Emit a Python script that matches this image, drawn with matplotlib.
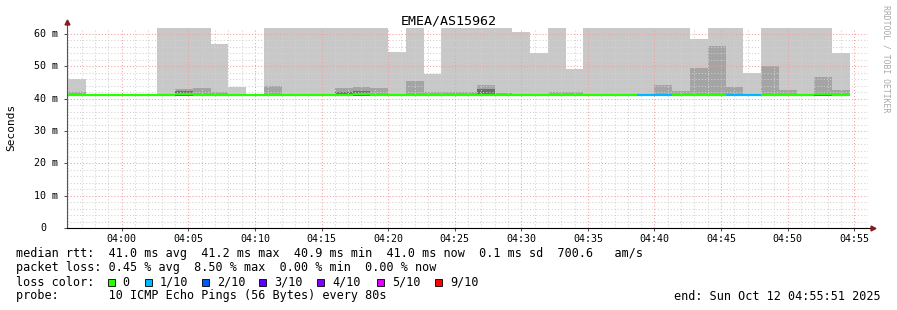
import numpy as np
import matplotlib
matplotlib.use('Agg')
from matplotlib import pyplot as plt
from matplotlib.patches import Rectangle
from matplotlib.transforms import blended_transform_factory

W, H = 897, 310
plt.rcParams['font.family'] = ['DejaVu Sans Mono']

###################### Data ##############################
# one bin every 80 s, first bin starts 03:56:00 (minutes relative to 04:00)
first_bin = -4.0
step_min = 80 / 60.0

rtt_median = [41.0, 41.0, 41.0, 41.0, 41.0, 41.0, 41.3, 41.0, 41.0, 41.0, 41.0,
              41.0, 41.0, 41.0, 41.0, 41.0, 41.3, 41.2, 41.0, 41.0, 41.0, 41.0,
              41.0, 41.1, 41.2, 41.2, 41.0, 41.0, 41.0, 41.0, 41.0, 41.0, 41.0,
              41.0, 41.0, 41.0, 41.0, 41.0, 41.0, 41.0, 41.0, 41.0, 41.3, 41.1]
rtt_min = [40.9] * 44
rtt_max = [46.0, 41.0, 41.0, 41.0, 41.0, 70.0, 70.0, 70.0, 57.0, 43.5, 41.0,
           70.0, 70.0, 70.0, 70.0, 70.0, 70.0, 70.0, 54.3, 70.0, 47.5, 70.0,
           70.0, 70.0, 70.0, 60.7, 54.0, 70.0, 49.3, 70.0, 70.0, 70.0, 70.0,
           70.0, 70.0, 58.5, 70.0, 70.0, 48.0, 70.0, 70.0, 70.0, 70.0, 54.0]
smoke_mid = [42.1, 41.0, 41.0, 41.0, 41.0, 41.0, 42.9, 43.3, 41.9, 41.0, 41.0,
             44.0, 41.5, 41.0, 41.0, 43.2, 43.7, 43.2, 41.5, 45.5, 41.9, 41.9,
             42.1, 44.3, 41.8, 41.5, 41.0, 42.1, 42.1, 41.0, 41.0, 41.0, 41.0,
             44.1, 42.4, 49.6, 56.1, 43.6, 41.0, 50.2, 42.7, 41.0, 46.7, 42.7]
smoke_core = [41.0, 41.0, 41.0, 41.0, 41.0, 41.0, 42.4, 41.0, 41.0, 41.0, 41.0,
              41.0, 41.0, 41.0, 41.0, 42.1, 42.5, 41.0, 41.0, 41.0, 41.0, 41.0,
              41.0, 43.1, 41.0, 41.0, 41.0, 41.0, 41.0, 41.0, 41.0, 41.0, 41.0,
              41.0, 41.0, 41.0, 41.0, 41.0, 41.0, 41.0, 41.0, 41.0, 41.0, 41.0]
loss = [0, 0, 0, 0, 0, 0, 0, 0, 0, 0, 0, 0, 0, 0, 0, 0, 0, 0, 0, 0, 0, 0,
        0, 0, 0, 0, 0, 0, 0, 0, 0, 0, 1, 1, 0, 0, 0, 1, 1, 0, 0, 0, 0, 0]

loss_keys = [0, 1, 2, 3, 4, 5, 9]
loss_labels = ['0', '1/10', '2/10', '3/10', '4/10', '5/10', '9/10']
loss_colors = ['#26ff00', '#00b8ff', '#0059ff', '#5e00ff', '#7e00ff', '#dd00ff', '#ff0000']

x_ticks = list(range(0, 56, 5))
x_labels = ['04:%02d' % m for m in x_ticks]
y_ticks = [0, 10, 20, 30, 40, 50, 60]
y_labels = ['0', '10 m', '20 m', '30 m', '40 m', '50 m', '60 m']

title = 'EMEA/AS15962'
legend_lines = [
    'median rtt:  41.0 ms avg  41.2 ms max  40.9 ms min  41.0 ms now  0.1 ms sd  700.6   am/s',
    'packet loss: 0.45 % avg  8.50 % max  0.00 % min  0.00 % now',
    'loss color:',
    'probe:       10 ICMP Echo Pings (56 Bytes) every 80s',
]
end_text = 'end: Sun Oct 12 04:55:51 2025'


###################### Plot ##############################
def fx(px):
    return px / W


def fy(py):
    return 1 - py / H


fig = plt.figure(figsize=(W / 100, H / 100), dpi=100)
ax = fig.add_axes([fx(66.7), fy(228.3), (868 - 66.7) / W, (228.3 - 28) / H])

edges = first_bin + step_min * np.arange(len(rtt_max) + 1)
ax.stairs(rtt_max, edges, baseline=rtt_min, fill=True, color='#c8c8c8', lw=0, zorder=1)
ax.stairs(smoke_mid, edges, baseline=rtt_min, fill=True, color='#a4a4a4', lw=0, zorder=1.1)
ax.stairs(smoke_core, edges, baseline=rtt_min, fill=True, color='#6e6e6e', lw=0, zorder=1.2)

color_of = dict(zip(loss_keys, loss_colors))
ax.hlines(rtt_median, edges[:-1], edges[1:], colors=[color_of[l] for l in loss],
          lw=1.6, zorder=3)

ax.set_xlim(-4.13, 56.03)
ax.set_ylim(0, 61.8)

ax.set_xticks(x_ticks)
ax.set_xticklabels(x_labels)
ax.set_xticks(np.arange(-4, 57, 1), minor=True)
ax.set_yticks(y_ticks)
ax.set_yticklabels([])
ax.set_yticks(np.arange(0, 62, 2), minor=True)
ax.tick_params(which='major', length=2, width=0.75, color='#555555', labelsize=7.2, pad=2)
ax.tick_params(which='minor', length=0)

ax.set_axisbelow(False)
ax.grid(which='minor', color='#d2d2d2', ls=(0, (1, 2)), lw=0.75)
ax.grid(which='major', color='#f2a0a0', ls=(0, (1, 2)), lw=0.75)

# y labels, right aligned like rrdtool
tr = blended_transform_factory(ax.transAxes, ax.transData)
for v, lab in zip(y_ticks, y_labels):
    off = 8.4 if lab != '0' else 20.0
    ax.text(-off / 801.3, v, lab, transform=tr, ha='right', va='center', fontsize=7.2)

# axes with arrows
for s in ax.spines.values():
    s.set_visible(False)
ax.plot([0, 0], [0, 1.02], color='#555555', lw=0.8, transform=ax.transAxes, clip_on=False, zorder=4)
ax.plot([0, 1.004], [0, 0], color='black', lw=0.8, transform=ax.transAxes, clip_on=False, zorder=4)
ax.plot(0, 1.03, marker='^', color='#8b1a1a', ms=3.5, transform=ax.transAxes, clip_on=False, zorder=5)
ax.plot(1.006, 0, marker='>', color='#8b1a1a', ms=3.5, transform=ax.transAxes, clip_on=False, zorder=5)

fig.text(fx(448.5), fy(25), title, ha='center', va='baseline', fontsize=9.6)
fig.text(fx(11), fy(127), 'Seconds', rotation=90, ha='center', va='center', fontsize=8)
fig.text(fx(886), fy(5), 'RRDTOOL / TOBI OETIKER', rotation=270, ha='center', va='top',
         fontsize=5.9, color='#a8a8a8')

for i, line in enumerate(legend_lines):
    fig.text(fx(16), fy(257.5 + 14 * i), line, ha='left', va='baseline', fontsize=8.5)
fig.text(fx(880.5), fy(299.5), end_text, ha='right', va='baseline', fontsize=8.5)

box_x = [107.5, 145, 202, 259, 317, 377, 435]
for bx, col, lab in zip(box_x, loss_colors, loss_labels):
    fig.add_artist(Rectangle((fx(bx), fy(286.3)), 7 / W, 7 / H, transform=fig.transFigure,
                             facecolor=col, edgecolor='black', lw=0.6))
    fig.text(fx(bx + 15), fy(285.5), lab, ha='left', va='baseline', fontsize=8.5)

fig.savefig('out.png', dpi=100)
